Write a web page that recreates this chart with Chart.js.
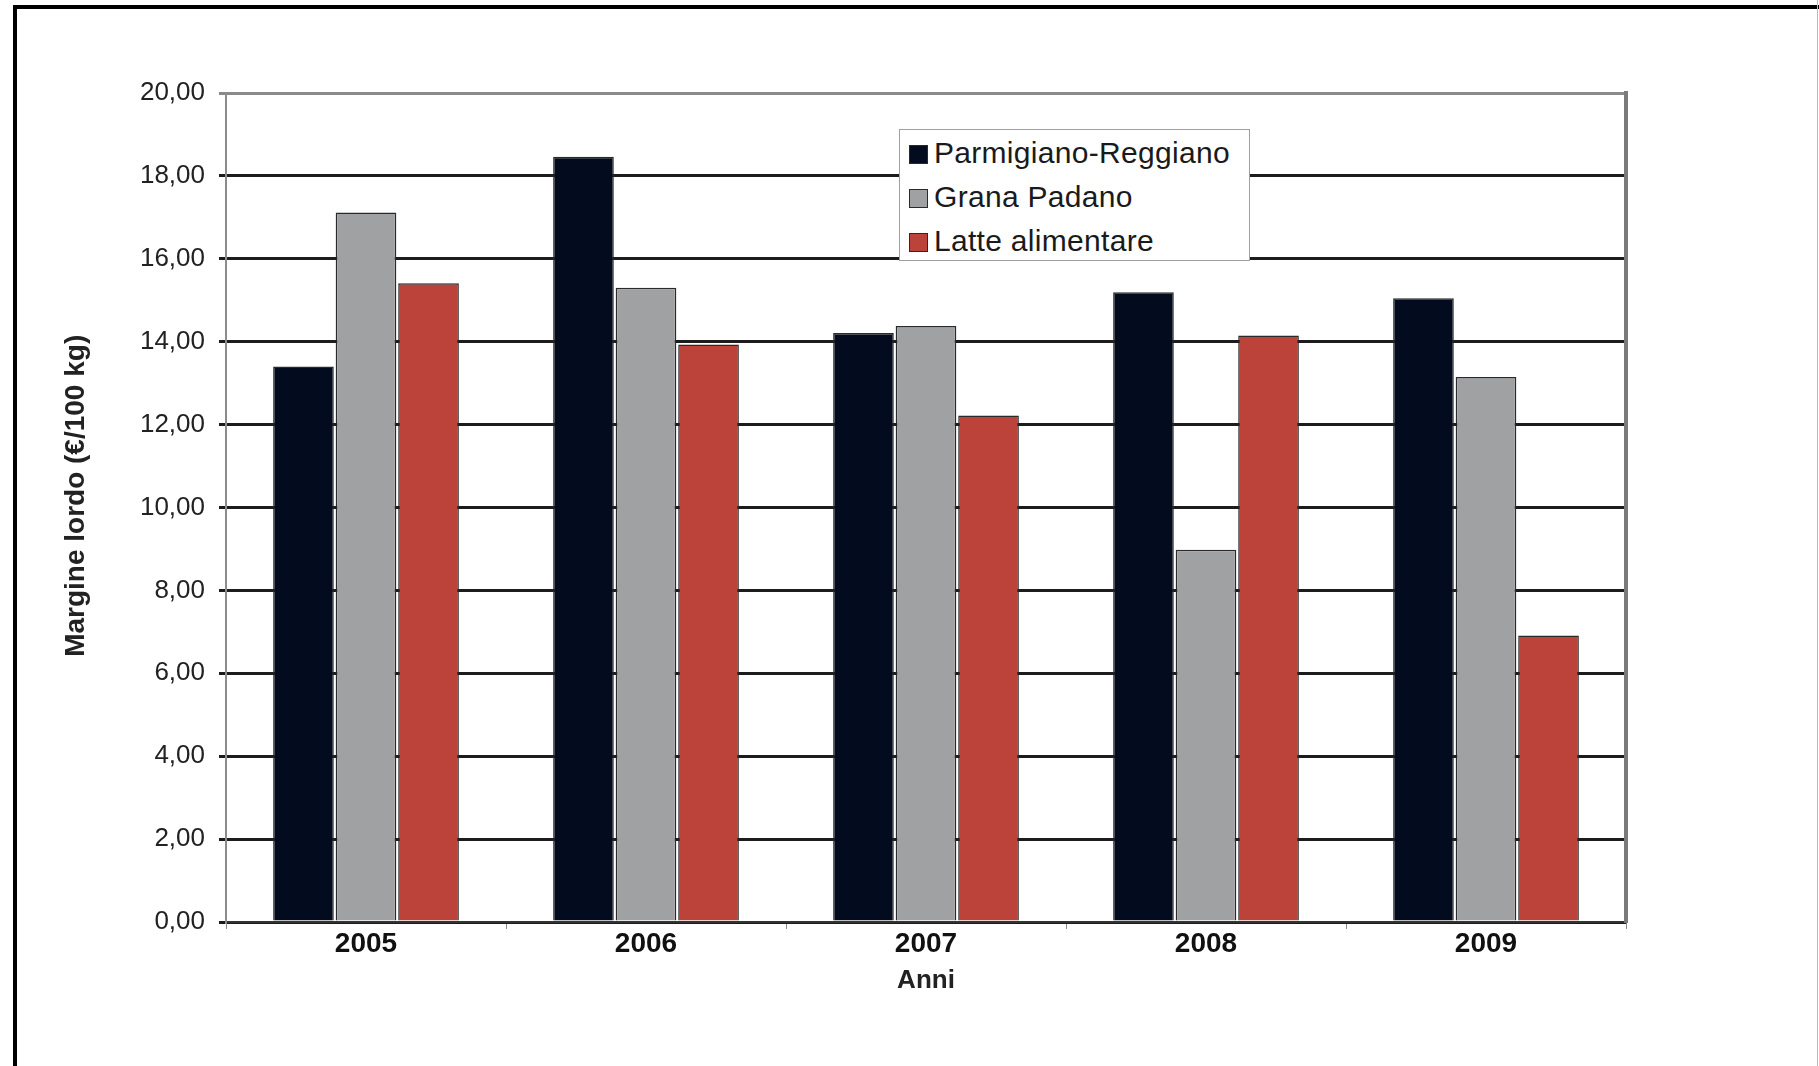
<!DOCTYPE html>
<html>
<head>
<meta charset="utf-8">
<script src="https://cdn.jsdelivr.net/npm/chart.js@4/dist/chart.umd.min.js"></script>
<style>
    body { margin: 0; background: #fff; overflow: hidden; }
    #frame {
        position: absolute; left: 13px; top: 5px; right: -20px; bottom: -20px;
        border-top: 4px solid #000; border-left: 4px solid #000;
    }
    #edge { position: absolute; right: 1px; top: 0; width: 1px; height: 1066px; background: #bbb; }
    #chartBox { position: absolute; left: 0; top: 0; width: 1819px; height: 1066px; }
    #legendBox {
        position: absolute; left: 899px; top: 129px; width: 349px; height: 130px;
        background: #fff; border: 1.5px solid #a0a0a0;
        font-family: "Liberation Sans", Arial, sans-serif; font-size: 30px; letter-spacing: 0.3px; color: #1a1a1a;
    }
    .row { position: absolute; left: 9px; height: 34px; line-height: 34px; white-space: nowrap; }
    .sw { display: inline-block; width: 17px; height: 17px; border: 1.5px solid #2a2a2a; margin-right: 6px; vertical-align: -1px; }
</style>
</head>
<body>
<div id="frame"></div>
<div id="edge"></div>
<div id="chartBox"><canvas id="chart" width="1819" height="1066"></canvas></div>
<div id="legendBox"></div>

<script>
// ================= DATA =================
const years = ["2005", "2006", "2007", "2008", "2009"];
const parmigiano = [13.40, 18.46, 14.21, 15.19, 15.05];
const grana = [17.12, 15.30, 14.38, 8.98, 13.15];
const latte = [15.41, 13.93, 12.22, 14.15, 6.91];
const seriesNames = ["Parmigiano-Reggiano", "Grana Padano", "Latte alimentare"];
const seriesColors = ["#020c1e", "#a0a1a3", "#bb4339"];

const FONT = "'Liberation Sans', Arial, sans-serif";

// ================= LEGEND =================
function renderLegend() {
    const box = document.getElementById("legendBox");
    box.innerHTML = seriesNames.map((name, i) => `
        <div class="row" style="top:${6 + i * 44}px">
            <span class="sw" style="background:${seriesColors[i]}"></span>${name}
        </div>
    `).join("");
}

// ================= CHART =================
function makeSet(label, data, color) {
    return {
        label, data,
        backgroundColor: color,
        borderColor: "#2a2a2a",
        borderWidth: 1.5,
        categoryPercentage: 0.67,
        barPercentage: 0.97
    };
}

new Chart(document.getElementById("chart"), {
    type: "bar",
    data: {
        labels: years,
        datasets: [
            makeSet(seriesNames[0], parmigiano, seriesColors[0]),
            makeSet(seriesNames[1], grana, seriesColors[1]),
            makeSet(seriesNames[2], latte, seriesColors[2])
        ]
    },
    options: {
        responsive: false,
        animation: false,
        layout: { padding: { left: 59, top: 93, right: 193, bottom: 70 } },
        plugins: { legend: { display: false }, tooltip: { enabled: false } },
        scales: {
            x: {
                afterFit: s => { s.height = 74; },
                grid: { drawOnChartArea: false, drawTicks: true, tickLength: 7, color: "#888", offset: true },
                border: { color: "#333", width: 2 },
                ticks: { color: "#111", padding: -2, font: { family: FONT, size: 28, weight: "bold" } },
                title: { display: true, text: "Anni", color: "#222", padding: 0,
                         font: { family: FONT, size: 26, weight: "bold" } }
            },
            y: {
                min: 0, max: 20,
                afterFit: s => { s.width = 167; },
                grid: {
                    color: c => (c.tick && c.tick.value === 20) ? "#8a8a8a" : "#1c1c1c",
                    lineWidth: 3, tickLength: 7
                },
                border: { color: "#8c8c8c", width: 2 },
                ticks: {
                    stepSize: 2, padding: 14, color: "#222",
                    font: { family: FONT, size: 26 },
                    callback: v => v.toFixed(2).replace(".", ",")
                },
                title: { display: true, text: "   Margine lordo (€/100 kg)", color: "#222", padding: 0,
                         font: { family: FONT, size: 28, weight: "bold" } }
            },
            y2: {
                position: "right",
                min: 0, max: 20,
                afterFit: s => { s.width = 0; },
                grid: { drawOnChartArea: false, drawTicks: false },
                border: { color: "#7a7a7a", width: 4 },
                ticks: { display: false }
            }
        }
    }
});

renderLegend();
</script>
</body>
</html>
